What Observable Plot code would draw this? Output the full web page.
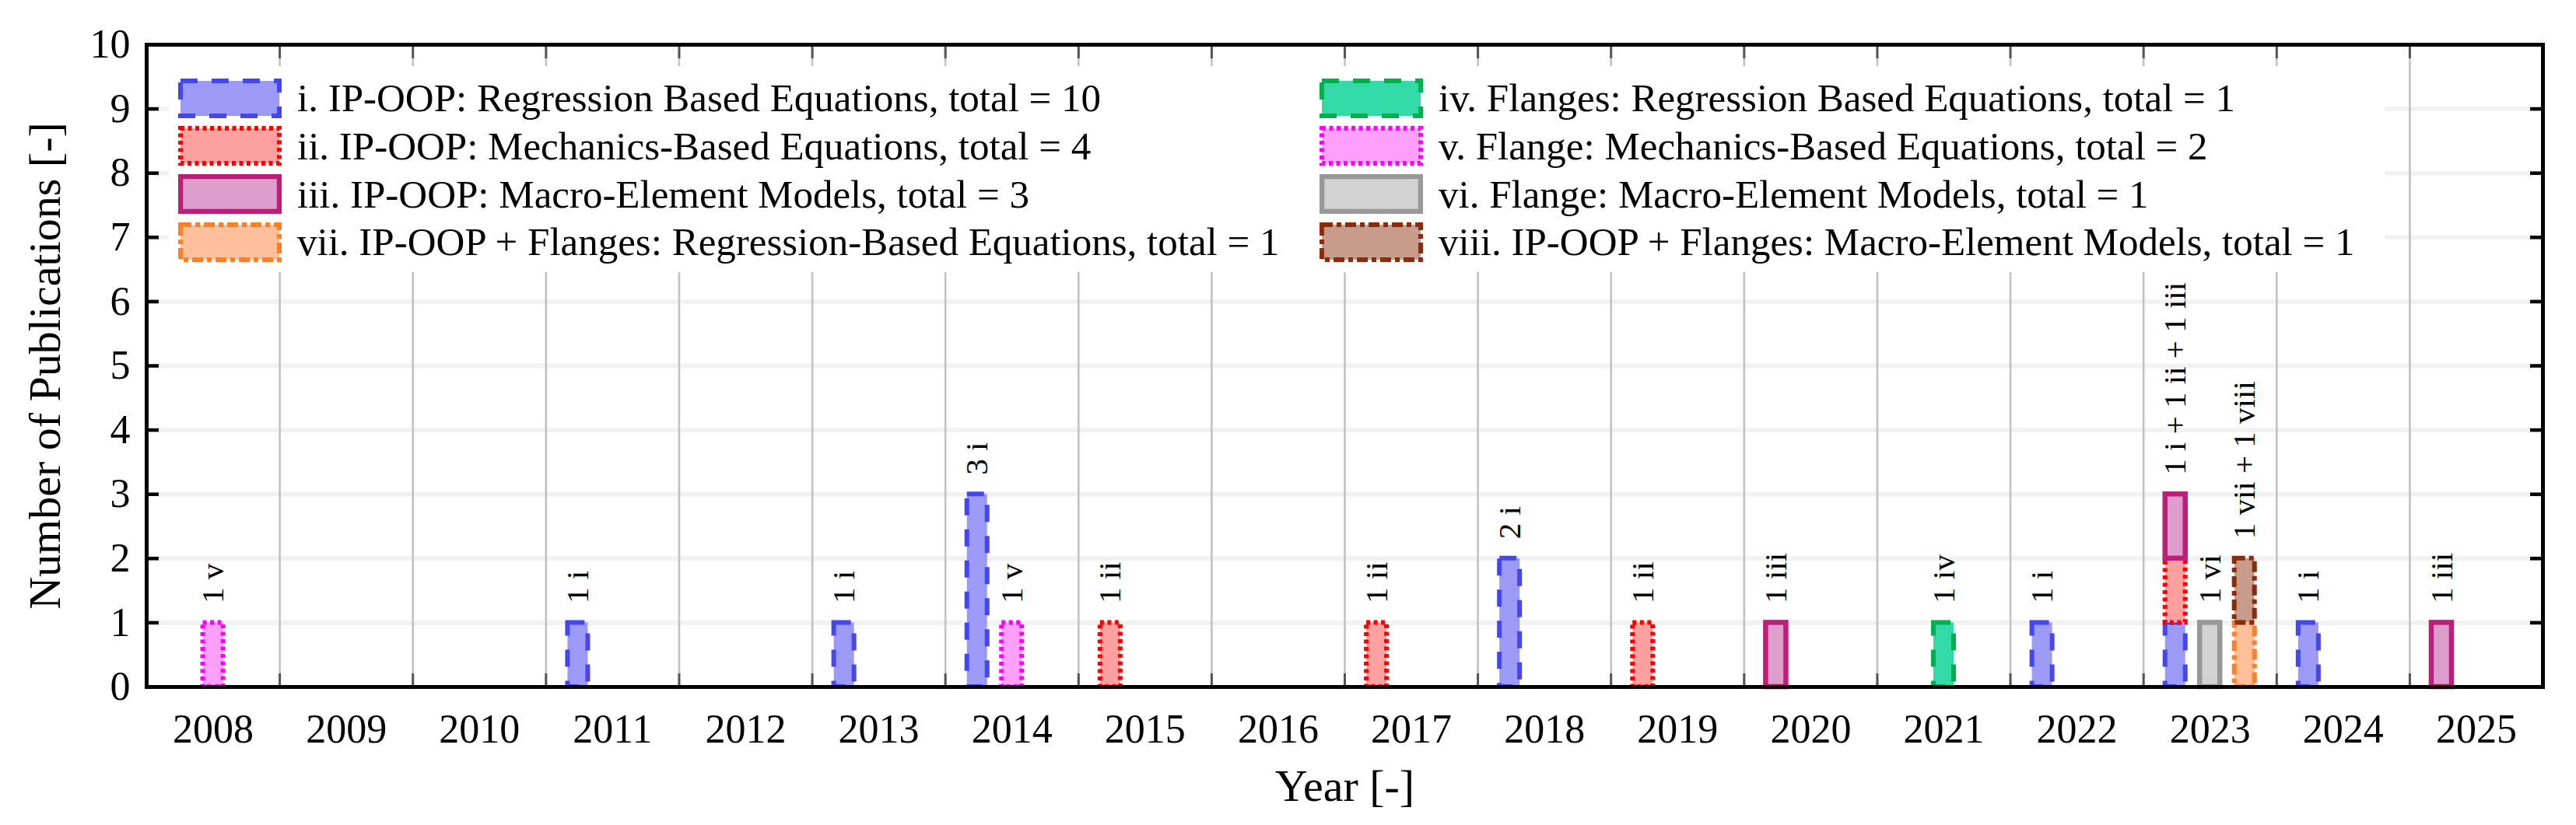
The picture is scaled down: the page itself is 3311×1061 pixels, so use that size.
<!DOCTYPE html>
<html>
<head>
<meta charset="utf-8">
<script src="https://cdn.jsdelivr.net/npm/d3@7"></script>
<script src="https://cdn.jsdelivr.net/npm/@observablehq/plot@0.6"></script>
<style>
html, body { margin: 0; padding: 0; background: #fff; }
#wrap { position: relative; width: 3311px; height: 1061px; font-family: "Liberation Serif", "Times New Roman", serif; }
#legend { position: absolute; left: 217px; top: 85px; width: 2848px; height: 265px; background: #fff; }
.item { position: absolute; display: flex; align-items: center; height: 51px; }
.item span { font-family: "Liberation Serif", "Times New Roman", serif; font-size: 51px; margin-left: 20px; white-space: nowrap; color: #000; }
.item svg { display: block; }
</style>
</head>
<body>
<div id="wrap"></div>
<script>
// ---------- data ----------
const years = [2008, 2009, 2010, 2011, 2012, 2013, 2014, 2015, 2016, 2017, 2018, 2019, 2020, 2021, 2022, 2023, 2024, 2025];
const seriesKeys = ["i", "ii", "iii", "iv", "v", "vi", "vii", "viii"];
const seriesLabels = [
  "i. IP-OOP: Regression Based Equations",
  "ii. IP-OOP: Mechanics-Based Equations",
  "iii. IP-OOP: Macro-Element Models",
  "iv. Flanges: Regression Based Equations",
  "v. Flange: Mechanics-Based Equations",
  "vi. Flange: Macro-Element Models",
  "vii. IP-OOP + Flanges: Regression-Based Equations",
  "viii. IP-OOP + Flanges: Macro-Element Models"
];
const groupNames = ["IP-OOP", "Flanges", "IP-OOP + Flanges"];
const seriesGroups = ["IP-OOP", "IP-OOP", "IP-OOP", "Flanges", "Flanges", "Flanges", "IP-OOP + Flanges", "IP-OOP + Flanges"];
// publications per year (aligned with `years`)
const countsI    = [0, 0, 0, 1, 0, 1, 3, 0, 0, 0, 2, 0, 0, 0, 1, 1, 1, 0];
const countsII   = [0, 0, 0, 0, 0, 0, 0, 1, 0, 1, 0, 1, 0, 0, 0, 1, 0, 0];
const countsIII  = [0, 0, 0, 0, 0, 0, 0, 0, 0, 0, 0, 0, 1, 0, 0, 1, 0, 1];
const countsIV   = [0, 0, 0, 0, 0, 0, 0, 0, 0, 0, 0, 0, 0, 1, 0, 0, 0, 0];
const countsV    = [1, 0, 0, 0, 0, 0, 1, 0, 0, 0, 0, 0, 0, 0, 0, 0, 0, 0];
const countsVI   = [0, 0, 0, 0, 0, 0, 0, 0, 0, 0, 0, 0, 0, 0, 0, 1, 0, 0];
const countsVII  = [0, 0, 0, 0, 0, 0, 0, 0, 0, 0, 0, 0, 0, 0, 0, 1, 0, 0];
const countsVIII = [0, 0, 0, 0, 0, 0, 0, 0, 0, 0, 0, 0, 0, 0, 0, 1, 0, 0];
const yTicks = [0, 1, 2, 3, 4, 5, 6, 7, 8, 9, 10];
const legendRows = [["i", "iv"], ["ii", "v"], ["iii", "vi"], ["vii", "viii"]];

// ---------- styles / layout ----------
const counts = [countsI, countsII, countsIII, countsIV, countsV, countsVI, countsVII, countsVIII];
const seriesStyle = {
  i:    {fill: "#9b9bf5", stroke: "#4646ee", dash: "22,18", width: 6},
  ii:   {fill: "#ffa0a0", stroke: "#ff0000", dash: "5,4.5", width: 6},
  iii:  {fill: "#dd9dcd", stroke: "#bc1e78", dash: null,    width: 6.5},
  iv:   {fill: "#33d9a6", stroke: "#00b04f", dash: "22,18", width: 6},
  v:    {fill: "#ffa0ff", stroke: "#ff00ff", dash: "5,4.5", width: 6},
  vi:   {fill: "#d2d2d2", stroke: "#989898", dash: null,    width: 6.5},
  vii:  {fill: "#ffbf99", stroke: "#ff7f27", dash: "14,5,6,5", width: 6},
  viii: {fill: "#c89b8a", stroke: "#8b2d0c", dash: "14,5,6,5", width: 6}
};
const groupOffset = {"IP-OOP": -0.26, "Flanges": 0, "IP-OOP + Flanges": 0.26};
const halfW = 0.076;

// ---------- derived tables ----------
const rects = [];
const stackTop = new Map();
seriesKeys.forEach((key, k) => {
  const g = seriesGroups[k];
  years.forEach((yr, j) => {
    const c = counts[k][j];
    if (!c) return;
    const id = yr + "|" + g;
    const base = stackTop.get(id) || 0;
    rects.push({key, group: g, year: yr, y1: base, y2: base + c, count: c,
                x1: yr + groupOffset[g] - halfW, x2: yr + groupOffset[g] + halfW});
    stackTop.set(id, base + c);
  });
});
const labels = [];
years.forEach((yr) => {
  groupNames.forEach((g) => {
    const parts = rects.filter(r => r.year === yr && r.group === g);
    if (!parts.length) return;
    labels.push({x: yr + groupOffset[g], y: d3.max(parts, r => r.y2),
                 text: parts.map(r => `${r.count} ${r.key}`).join(" + ")});
  });
});
const boundaries = years.slice(1).map(y => y - 0.5);
const gridLines = yTicks.filter(t => t > 0 && t < 10);

// ---------- chart ----------
const barMarks = seriesKeys.map(key => {
  const s = seriesStyle[key];
  return Plot.rectY(rects.filter(r => r.key === key), {
    x1: "x1", x2: "x2", y1: "y1", y2: "y2",
    fill: s.fill, stroke: s.stroke, strokeWidth: s.width,
    strokeDasharray: s.dash || undefined
  });
});

const chart = Plot.plot({
  width: 3311,
  height: 1061,
  marginLeft: 188,
  marginRight: 43,
  marginTop: 57,
  marginBottom: 178,
  style: {fontFamily: '"Liberation Serif", "Times New Roman", serif', color: "#000", background: "#fff"},
  x: {type: "linear", domain: [years[0] - 0.5, years[years.length - 1] + 0.5]},
  y: {domain: [0, 10]},
  marks: [
    Plot.ruleY(gridLines, {y: d => d, stroke: "#f2f2f2", strokeWidth: 6}),
    Plot.ruleX(boundaries, {x: d => d, stroke: "#c2c2c2", strokeWidth: 2.6}),
    ...barMarks,
    Plot.text(labels, {x: "x", y: "y", text: "text", rotate: -90, textAnchor: "start",
                       lineAnchor: "middle", dy: -25, fontSize: 41, fill: "#000"}),
    Plot.axisX({anchor: "bottom", ticks: years, tickFormat: d => String(d), tickSize: 0,
                tickPadding: 35, fontSize: 52, label: null}),
    Plot.axisX({anchor: "bottom", ticks: boundaries, tickFormat: () => "", tickSize: -17,
                stroke: "#555", strokeWidth: 3, label: null}),
    Plot.axisX({anchor: "top", ticks: boundaries, tickFormat: () => "", tickSize: -17,
                stroke: "#555", strokeWidth: 3, label: null}),
    Plot.axisY({anchor: "left", ticks: yTicks, tickSize: -16, tickPadding: 37, fontSize: 52,
                strokeWidth: 4.5, label: null}),
    Plot.axisY({anchor: "right", ticks: yTicks, tickFormat: () => "", tickSize: -17,
                strokeWidth: 4.5, label: null}),
    Plot.text(["Year [-]"], {frameAnchor: "bottom", dy: 128, lineAnchor: "middle",
                textAnchor: "middle", fontSize: 58, fill: "#000"}),
    Plot.text(["Number of Publications [-]"], {frameAnchor: "left", dx: -130, rotate: -90,
                textAnchor: "middle", lineAnchor: "middle", fontSize: 58, fill: "#000"}),
    Plot.frame({stroke: "#000", strokeWidth: 5})
  ]
});

const wrap = document.getElementById("wrap");
wrap.appendChild(chart);

// ---------- legend (inside plot area) ----------
const legend = document.createElement("div");
legend.id = "legend";
wrap.appendChild(legend);
const colLeft = [12, 1479];
legendRows.forEach((row, r) => {
  row.forEach((key, c) => {
    const k = seriesKeys.indexOf(key);
    const s = seriesStyle[key];
    const total = d3.sum(counts[k]);
    const item = document.createElement("div");
    item.className = "item";
    item.style.left = colLeft[c] + "px";
    item.style.top = (15.7 + r * 61.7) + "px";
    const sw = d3.create("svg").attr("width", 133).attr("height", 51);
    sw.append("rect").attr("x", 3).attr("y", 3).attr("width", 127).attr("height", 45)
      .attr("fill", s.fill).attr("stroke", s.stroke).attr("stroke-width", s.width)
      .attr("stroke-dasharray", s.dash);
    item.appendChild(sw.node());
    const t = document.createElement("span");
    t.textContent = `${seriesLabels[k]}, total = ${total}`;
    item.appendChild(t);
    legend.appendChild(item);
  });
});
</script>
</body>
</html>
